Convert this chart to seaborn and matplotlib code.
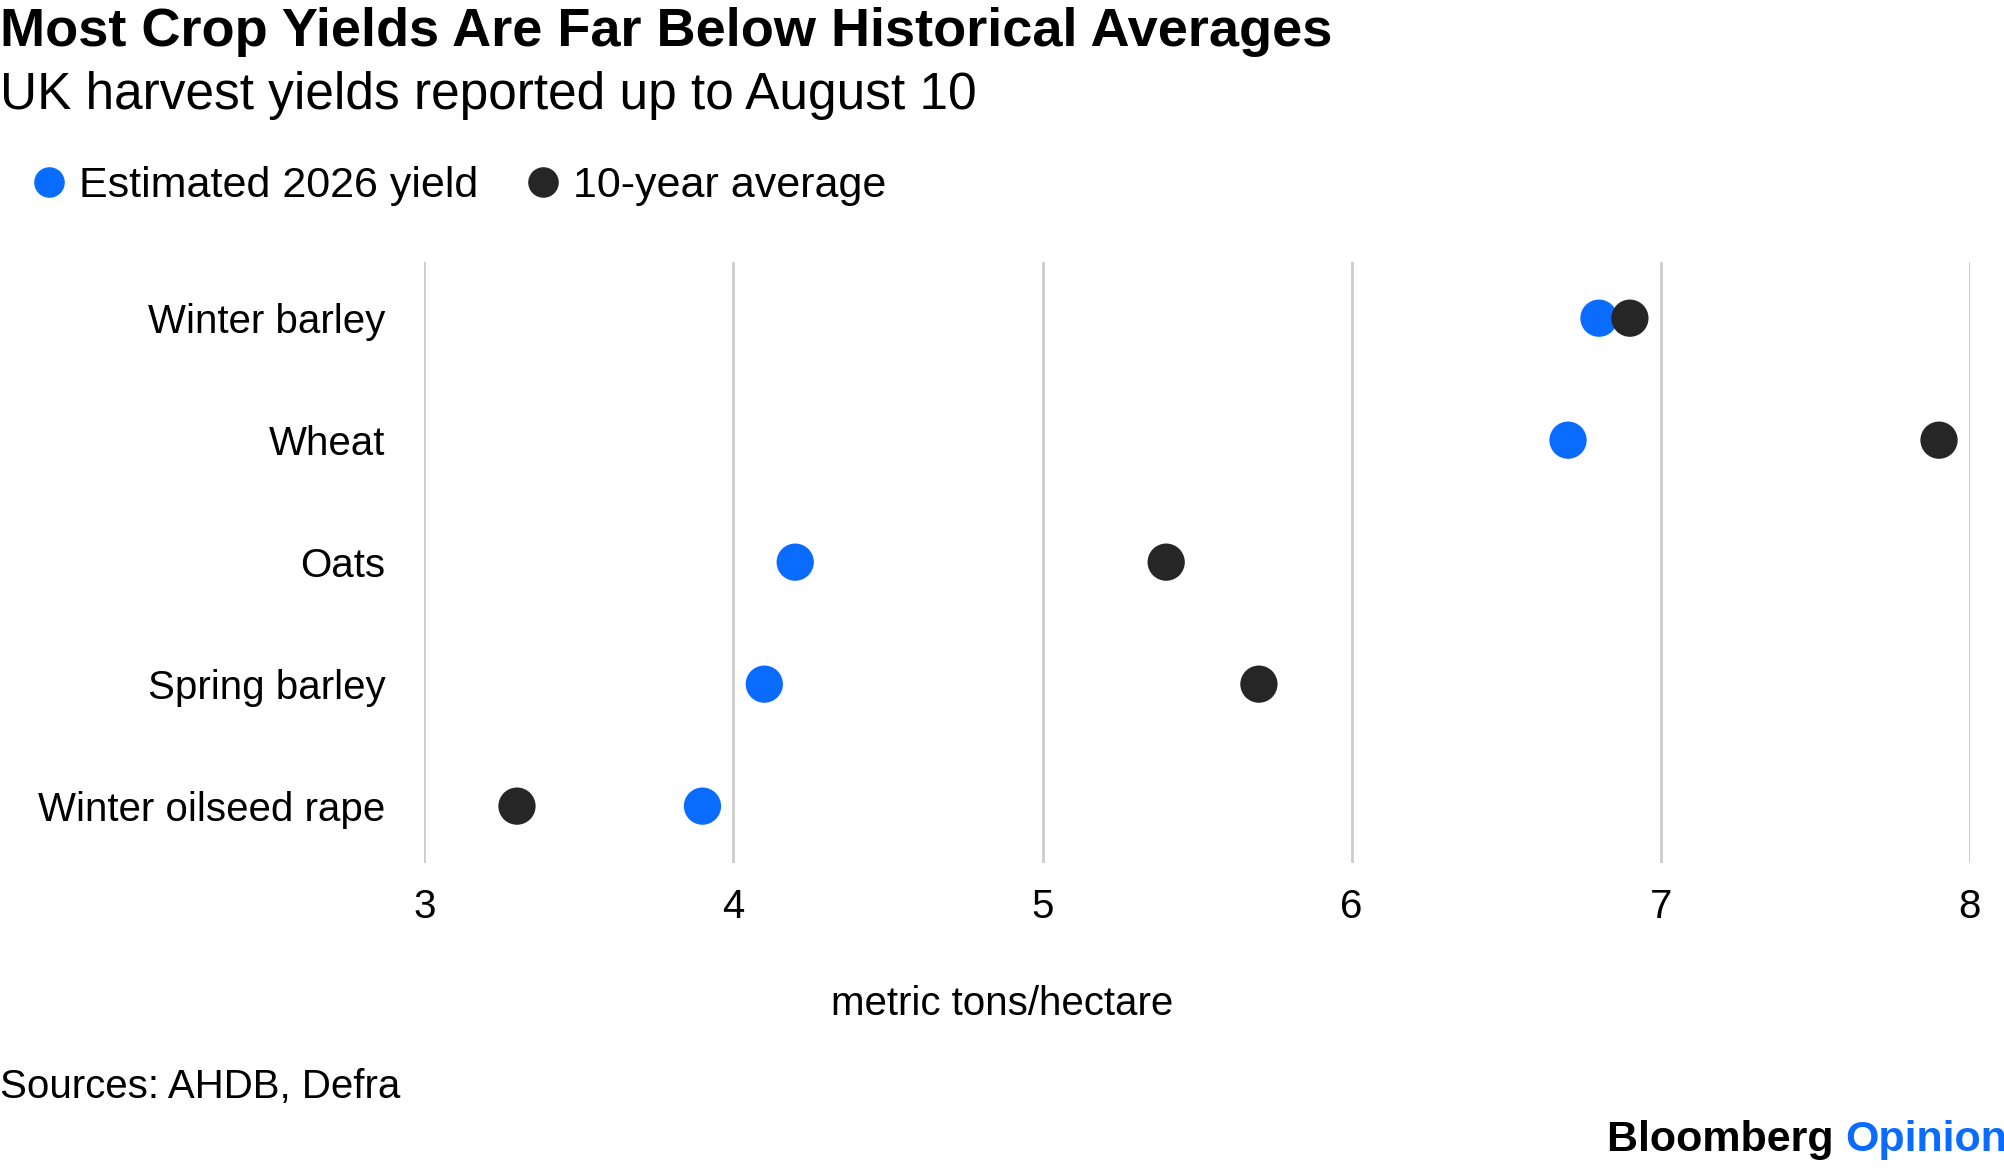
import matplotlib
matplotlib.use("Agg", force=True)
import matplotlib.pyplot as plt
import pandas as pd
import seaborn as sns
from matplotlib.lines import Line2D

CROPS = ["Winter barley", "Wheat", "Oats", "Spring barley", "Winter oilseed rape"]
YIELD_2026 = [6.8, 6.7, 4.2, 4.1, 3.9]
AVG_10Y = [6.9, 7.9, 5.4, 5.7, 3.3]
SERIES = ["Estimated 2026 yield", "10-year average"]
COLORS = {"Estimated 2026 yield": "#0a6cff", "10-year average": "#262626"}

df = pd.DataFrame({
    "crop": CROPS * 2,
    "value": YIELD_2026 + AVG_10Y,
    "series": [SERIES[0]] * 5 + [SERIES[1]] * 5,
})

sns.set_style("white")
plt.rcParams["font.family"] = ["Liberation Sans", "DejaVu Sans"]
plt.rcParams["text.color"] = "black"
plt.rcParams["xtick.color"] = "black"
plt.rcParams["ytick.color"] = "black"
plt.rcParams["axes.labelcolor"] = "black"

fig = plt.figure(figsize=(20.04, 11.7), dpi=100)
ax = fig.add_axes([0.2117, 0.262, 0.7713, 0.514])
sns.scatterplot(data=df, x="value", y="crop", hue="series", palette=COLORS,
                s=720, linewidth=0, ax=ax, legend=False, zorder=3)
ax.set_xlim(3, 8)
ax.set_ylim(4.47, -0.46)
ax.set_xticks([3, 4, 5, 6, 7, 8])
ax.grid(axis="x", color="#cccccc", linewidth=2)
ax.grid(axis="y", visible=False)
for s in ax.spines.values():
    s.set_visible(False)
ax.tick_params(axis="both", length=0, labelsize=29)
ax.tick_params(axis="y", pad=28)
ax.tick_params(axis="x", pad=18)
ax.set_ylabel("")
ax.set_xlabel("")

fig.text(0.0, 0.973, "Most Crop Yields Are Far Below Historical Averages",
         fontsize=39, fontweight="bold", va="center")
fig.text(0.0, 0.918, "UK harvest yields reported up to August 10", fontsize=37, va="center")
handles = [Line2D([], [], marker="o", ls="", color=COLORS[k], markersize=21) for k in SERIES]
fig.legend(handles, SERIES, loc="center left", bbox_to_anchor=(-0.008, 0.841), ncol=2,
           frameon=False, fontsize=31, handletextpad=0.1, handlelength=1.2, columnspacing=0.9)
fig.text(0.5, 0.142, "metric tons/hectare", fontsize=29, ha="center", va="center")
fig.text(0.0, 0.071, "Sources: AHDB, Defra", fontsize=29, va="center")
fig.text(0.921, 0.026, "Bloomberg ", fontsize=31, fontweight="bold", va="center", ha="right")
fig.text(0.921, 0.026, "Opinion", fontsize=31, fontweight="bold", color="#0a6cff", va="center")

fig.savefig("out.png", dpi=100)
